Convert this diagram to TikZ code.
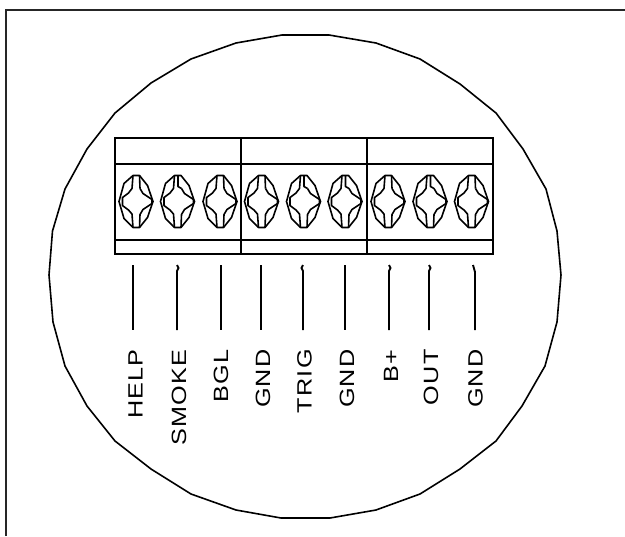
\documentclass[tikz,border=0pt]{standalone}
\usepackage{fontspec}
\usepackage{tikz}
\newfontfamily\termfont[LetterSpace=5]{Liberation Sans}
\newcommand{\screwbody}{
    \draw (-3.5,-26) -- (-12.5,-18) -- (-17.5,0) -- (-12.5,17) -- (-3.5,26)
      -- (3,26) -- (11,16) -- (16.5,0) -- (11,-16) -- (3,-26) -- cycle;
    \draw (-3.5,-26) -- (-4.5,-13) -- (-8,-8.5) -- (-14,-4) -- (-14,4) -- (-8,8.5) -- (-4.5,12.5) -- (-3.5,26);
    \draw (3.5,-13) -- (6.5,-8) -- (15.5,-2) -- (15.5,2) -- (6.5,8) -- (3.5,13) -- (3,26);
}
\tikzset{screw/.pic={
  \begin{scope}[line width=1.2pt,line join=round]
    \screwbody
    \draw (3,-26) -- (3.5,-13);
  \end{scope}
}}
\tikzset{screwb/.pic={
  \begin{scope}[line width=1.2pt,line join=round]
    \screwbody
    \draw (0,-26) -- (0,-15) -- (3.5,-13);
  \end{scope}
}}
\tikzset{term/.style={rotate=90,xscale=1.22,anchor=east,inner sep=0pt,font=\termfont\fontsize{15.5}{17}\selectfont}}
\tikzset{wire/.style={line width=1.4pt}}

\begin{document}
\begin{tikzpicture}[x=0.75pt,y=-0.75pt]
  \useasboundingbox (0,0) rectangle (625,536);
  % frame, open on two sides
  \coordinate (frameA) at (6,536);
  \coordinate (frameB) at (6,10);
  \coordinate (frameC) at (625,10);
  \draw[line width=1.6pt,black!85] (frameA) -- (frameB) -- (frameC);
  % housing
  \draw[line width=1.2pt,line join=round] (282,35) -- (236,43) -- (191,59) -- (151,83) -- (115,113)
    -- (87,149) -- (65,189) -- (52.5,231) -- (49,275) -- (53,322) -- (65,366)
    -- (87,406) -- (115,441) -- (151,469) -- (191,494) -- (236,510) -- (281,518)
    -- (330,518) -- (376,510) -- (420,494) -- (460,469) -- (496,441) -- (522,406)
    -- (545,366) -- (557,322) -- (561,275) -- (557,231) -- (546,189) -- (523,149)
    -- (496,113) -- (460,84) -- (420,59) -- (376,43) -- (329,35) -- cycle;
  % terminal block
  \draw[line width=1.5pt] (115,137.5) rectangle (493,253.5);
  \draw[line width=1.5pt] (115,163.5) -- (493,163.5);
  \draw[line width=1.5pt] (115,239.5) -- (493,239.5);
  \draw[line width=1.5pt] (241,137.5) -- (241,253.5);
  \draw[line width=1.5pt] (367,137.5) -- (367,253.5);
  \pic at (136.5,201.5) {screw};
  \pic at (178,201.5) {screwb};
  \pic at (220.5,201.5) {screw};
  \pic at (262,201.5) {screw};
  \pic at (304,201.5) {screwb};
  \pic at (345.5,201.5) {screwb};
  \pic at (388.5,201.5) {screw};
  \pic at (430.5,201.5) {screwb};
  \pic at (472,201.5) {screw};
  % wires
  \coordinate (helpA) at (133,265);
  \coordinate (helpB) at (133,330);
  \coordinate (smokeA) at (177,265);
  \coordinate (smokeB) at (177,330);
  \coordinate (bglA) at (221,265);
  \coordinate (bglB) at (221,330);
  \coordinate (gndA) at (261,265);
  \coordinate (gndB) at (261,330);
  \coordinate (trigA) at (303,265);
  \coordinate (trigB) at (303,330);
  \coordinate (gndtwoA) at (345,265);
  \coordinate (gndtwoB) at (345,330);
  \coordinate (battA) at (389,265);
  \coordinate (battB) at (389,330);
  \coordinate (outA) at (429,265);
  \coordinate (outB) at (429,330);
  \coordinate (gndthreeA) at (473,265);
  \coordinate (gndthreeB) at (475,330);
  \draw[wire] (helpA) -- (helpB);
  \draw[wire] (smokeA) -- ++(1.5,3) -- ++(-1.5,3) -- (smokeB);
  \draw[wire] (bglA) -- (bglB);
  \draw[wire] (gndA) -- (gndB);
  \draw[wire] (trigA) -- ++(-1.5,3) -- ++(1.5,3) -- (trigB);
  \draw[wire] (gndtwoA) -- (gndtwoB);
  \draw[wire] (battA) -- ++(1.5,3) -- ++(-1.5,3) -- (battB);
  \draw[wire] (outA) -- ++(1.5,3) -- ++(-1.5,3) -- (outB);
  \draw[wire] (gndthreeA) -- ++(2,7) -- (gndthreeB);
  % labels
  \node[term] (help) at (135.5,349) {HELP};
  \node[term] (smoke) at (179,349) {SMOKE};
  \node[term] (bgl) at (221,349) {BGL};
  \node[term] (gnd) at (263,349) {GND};
  \node[term] (trig) at (304.5,349) {TRIG};
  \node[term] (gndtwo) at (347,349) {GND};
  \node[term] (batt) at (391,349) {B+};
  \node[term] (out) at (431,349) {OUT};
  \node[term] (gndthree) at (475.5,349) {GND};
\end{tikzpicture}
\end{document}
